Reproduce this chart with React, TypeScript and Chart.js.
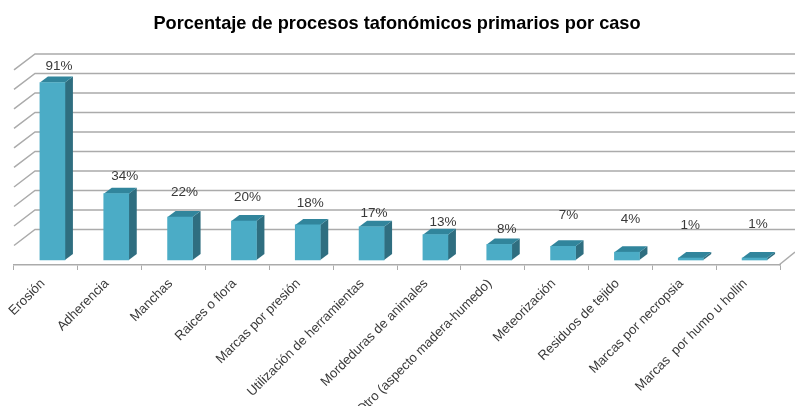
import React, { useEffect, useRef } from "react";
import { Chart, registerables } from "chart.js";

Chart.register(...registerables);

const categories = [
  "Erosión",
  "Adherencia",
  "Manchas",
  "Raices o flora",
  "Marcas por presión",
  "Utilización de herramientas",
  "Mordeduras de animales",
  "Otro (aspecto madera-humedo)",
  "Meteorización",
  "Residuos de tejido",
  "Marcas por necropsia",
  "Marcas  por humo u hollin",
];
const values = [91, 34, 22, 20, 18, 17, 13, 8, 7, 4, 1, 1];
const chartTitle = "Porcentaje de procesos tafonómicos primarios por caso";

// Hand-placed label nudges of the original, relative to each bar's top
const labelLift = [16, 17, 25, 24, 22, 14, 12, 15, 31, 33, 33, 34];
const labelShift = [13, 15, 11, 10, 9, 9, 14, 14, 12, 10, 6, 10];

const FACE = "#4BACC6";
const SIDE = "#2F6E80";
const TOP = "#31859C";
const GRID = "#ABABAB";
const TEXT = "#3A3A3A";
const FONT = "'Liberation Sans', Arial, sans-serif";
const BAR_SHIFT = 6.5;
const DEPTH_X = 8;
const DEPTH_Y = 6;
const WALL_X = 21;
const WALL_UP = 11;
const WALL_DROP = 16;

const scene3d = {
  id: "scene3d",
  beforeDatasetsDraw(chart: any) {
    const { ctx, chartArea, scales } = chart;
    const y = scales.y;
    ctx.save();
    ctx.strokeStyle = GRID;
    ctx.lineWidth = 1.5;
    y.ticks.forEach((t: any) => {
      if (t.value < 0) return;
      const py = y.getPixelForValue(t.value) - WALL_UP;
      ctx.beginPath();
      ctx.moveTo(chartArea.left, py + WALL_DROP);
      ctx.lineTo(chartArea.left + WALL_X, py);
      ctx.lineTo(chart.width, py);
      ctx.stroke();
    });
    ctx.beginPath();
    ctx.moveTo(chartArea.right - 1, chartArea.bottom);
    ctx.lineTo(chart.width, chartArea.bottom - 13);
    ctx.stroke();

    const meta = chart.getDatasetMeta(0);
    meta.data.forEach((bar: any) => {
      const p = bar.getProps(["x", "y", "base", "width"], true);
      const l = p.x - p.width / 2 + BAR_SHIFT;
      const r = l + p.width;
      ctx.fillStyle = SIDE;
      ctx.beginPath();
      ctx.moveTo(r, p.y);
      ctx.lineTo(r + DEPTH_X, p.y - DEPTH_Y);
      ctx.lineTo(r + DEPTH_X, p.base - DEPTH_Y);
      ctx.lineTo(r, p.base);
      ctx.closePath();
      ctx.fill();
      ctx.fillStyle = TOP;
      ctx.beginPath();
      ctx.moveTo(l, p.y);
      ctx.lineTo(l + DEPTH_X, p.y - DEPTH_Y);
      ctx.lineTo(r + DEPTH_X, p.y - DEPTH_Y);
      ctx.lineTo(r, p.y);
      ctx.closePath();
      ctx.fill();
    });
    ctx.restore();
    ctx.save();
    ctx.translate(BAR_SHIFT, 0);
  },
  afterDatasetsDraw(chart: any) {
    const { ctx } = chart;
    ctx.restore();
    ctx.save();
    ctx.font = `13.5px ${FONT}`;
    ctx.fillStyle = TEXT;
    ctx.textAlign = "center";
    ctx.textBaseline = "middle";
    chart.getDatasetMeta(0).data.forEach((bar: any, i: number) => {
      const p = bar.getProps(["x", "y"], true);
      ctx.fillText(`${values[i]}%`, p.x + labelShift[i], p.y - labelLift[i]);
    });
    ctx.restore();
  },
};

export default function App() {
  const ref = useRef<HTMLCanvasElement>(null);
  useEffect(() => {
    const chart = new Chart(ref.current as HTMLCanvasElement, {
      type: "bar",
      data: {
        labels: categories,
        datasets: [
          {
            data: values,
            backgroundColor: FACE,
            barThickness: 25,
            clip: false,
          } as any,
        ],
      },
      options: {
        responsive: false,
        animation: false,
        layout: { padding: { left: 14, right: 15, top: 0, bottom: 0 } },
        plugins: {
          legend: { display: false },
          tooltip: { enabled: false },
          title: {
            display: true,
            text: chartTitle,
            color: "#000000",
            font: { family: FONT, size: 18.2, weight: "bold", lineHeight: 1.2 },
            padding: { top: 13, bottom: 30.1 },
          },
        },
        scales: {
          x: {
            offset: true,
            grid: {
              offset: true,
              drawOnChartArea: false,
              drawTicks: true,
              tickLength: 5,
              color: GRID,
            },
            border: { color: GRID, width: 1.5 },
            ticks: {
              autoSkip: false,
              maxRotation: 45,
              minRotation: 45,
              padding: 6,
              labelOffset: -3,
              color: TEXT,
              font: { family: FONT, size: 13.2 },
            },
            afterFit(scale: any) {
              scale.height = 141;
              scale.paddingLeft = 0;
              scale.paddingRight = 0;
            },
          },
          y: {
            display: false,
            min: -2.564,
            max: 100,
            ticks: { stepSize: 10 },
            afterBuildTicks(scale: any) {
              scale.ticks = scale.ticks.filter((t: any) => t.value >= 0 && t.value % 10 === 0);
            },
          },
        },
      },
      plugins: [scene3d],
    } as any);
    return () => chart.destroy();
  }, []);
  return (
    <div style={{ position: "absolute", left: 0, top: 0, width: 795, height: 406, background: "#fff", overflow: "hidden" }}>
      <canvas ref={ref} width={795} height={406} style={{ display: "block" }} />
    </div>
  );
}
